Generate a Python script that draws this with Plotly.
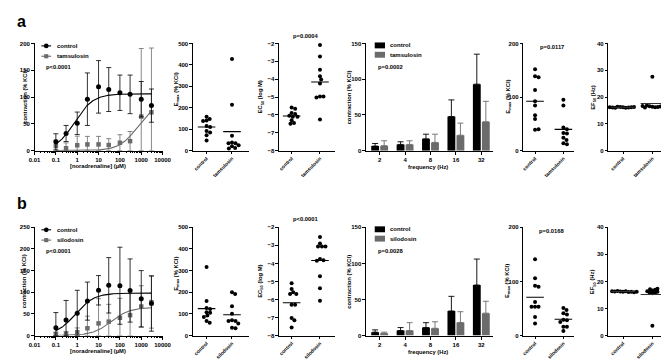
import numpy as np
import plotly.graph_objects as go

W, H = 669, 360
BLACK = "#000000"
GRAY = "#6b6b6b"
FONT = "Liberation Sans, Arial, sans-serif"

# ---------------- data ----------------
doses_uM = [0.1, 0.3, 1, 3, 10, 30, 100, 300, 1000, 3000]
dose_ticks = [0.01, 0.1, 1, 10, 100, 1000, 10000]
dose_ticktext = ["0.01", "0.1", "1", "10", "100", "1000", "10000"]

# row a: tamsulosin
a_ctrl_mean = [16.5, 32, 51, 96, 119, 114, 108, 105, 96, 84]
a_ctrl_sd = [15, 15, 21, 49, 49, 41, 33, 36, 33, 31]
a_tam_mean = [8.6, 4.5, 10, 11.6, 11.6, 10.4, 14.7, 17.7, 63.6, 71.5]
a_tam_sd = [11, 10, 17, 15, 15, 12, 15, 18, 127, 120]
a_ctrl_fit = {"top": 106, "ec50": 0.75, "hill": 1.0}
a_tam_fit = {"top": 90, "ec50": 700, "hill": 1.0}

# row b: silodosin
b_ctrl_mean = [18, 36, 51.5, 79.5, 104.5, 116, 115, 104, 85, 74]
b_ctrl_sd = [35, 45, 53, 44, 34, 64, 89, 73, 65, 64]
b_sil_mean = [3, 3.5, 7.5, 16.7, 28, 32, 41, 47, 67, 77]
b_sil_sd = [5, 6, 10, 28, 57, 40, 45, 50, 48, 60]
b_ctrl_fit = {"top": 98, "ec50": 0.8, "hill": 1.0}
b_sil_fit = {"top": 65, "ec50": 40, "hill": 1.0}

groups_a = ["control", "tamsulosin"]
groups_b = ["control", "silodosin"]

a_emax_ctrl = [158, 148, 140, 138, 115, 110, 92, 85, 72, 47]
a_emax_tam = [427, 214, 70, 38, 35, 35, 25, 20, 12, 10]
a_ec50_ctrl = [-5.58, -5.65, -5.9, -5.95, -6.05, -6.1, -6.1, -6.3, -6.45, -6.5]
a_ec50_tam = [-2.09, -2.73, -3.47, -3.83, -4.02, -4.24, -4.97, -4.97, -5.03, -6.26]
a_efs_emax_ctrl = [152, 139, 137, 113, 92, 84, 66, 59, 39, 40]
a_efs_emax_tam = [95, 84, 43, 40, 33, 32, 24, 20, 14, 12]
a_ef50_ctrl = [16.2, 16.0, 16.3, 16.1, 16.4, 16.2, 16.0, 16.1, 16.3, 16.2]
a_ef50_tam = [16.4, 16.2, 16.6, 16.3, 16.8, 16.5, 16.1, 16.7, 16.9, 27.6]

b_emax_ctrl = [317, 159, 127, 123, 108, 105, 92, 85, 67, 59]
b_emax_sil = [200, 192, 135, 101, 70, 67, 67, 55, 36, 33]
b_ec50_ctrl = [-5.1, -5.42, -5.6, -5.7, -5.7, -6.3, -6.3, -7.03, -7.16, -7.56]
b_ec50_sil = [-2.53, -2.9, -3.07, -3.07, -3.07, -3.75, -3.82, -3.86, -4.71, -5.38, -6.07]
b_efs_emax_ctrl = [141, 106, 92, 90, 62, 53, 53, 53, 34, 22]
b_efs_emax_sil = [51, 47, 41, 39, 29, 28, 25, 16, 16, 8.5]
b_ef50_ctrl = [16.2, 16.4, 16.3, 16.1, 16.5, 16.2, 16.3, 16.0, 16.4, 16.2]
b_ef50_sil = [15.6, 15.8, 15.9, 16.2, 16.4, 16.6, 16.9, 17.1, 17.3, 3.6]

freqs = ["2", "4", "8", "16", "32"]
a_bar_ctrl = [6.4, 8.7, 16.5, 47.7, 93]
a_bar_ctrl_err = [3.6, 3.7, 6.5, 23.3, 42]
a_bar_tam = [6.9, 8.7, 11.5, 21.6, 40.4]
a_bar_tam_err = [6.9, 5.1, 11.5, 16.9, 28.6]
b_bar_ctrl = [4.6, 6.8, 11, 34, 70]
b_bar_ctrl_err = [3.2, 4.2, 6.8, 20.3, 36]
b_bar_sil = [3.2, 6.8, 10, 18, 31]
b_bar_sil_err = [1.4, 11, 9, 15, 16.5]

p_texts_a = ["p<0.0001", "p=0.0004", "p=0.0002", "p=0.0117"]
p_texts_b = ["p<0.0001", "p<0.0001", "p=0.0028", "p=0.0168"]

# ---------------- layout geometry (pixels) ----------------
cols = [(21, 152), (183, 240), (271, 328), (360, 490), (521, 573), (608, 668)]
rows = [(33, 142), (220, 330)]
cat_px = [None, (197, 223), (284, 313), None, (533, 562), (623, 653)]
yranges = [[[0, 200], [0, 500], [-8, -2], [0, 150], [0, 200], [0, 40]],
           [[0, 250], [0, 500], [-8, -2], [0, 150], [0, 200], [0, 40]]]
ydticks = [50, 100, 1, 50, 100, 10]


def px2x(p):
    return p / W


def px2y(p):
    return 1 - p / H


fig = go.Figure()
layout = {}

TICKFONT = dict(family=FONT, size=6, color=BLACK, weight="bold")
axis_common = dict(showline=True, linecolor=BLACK, linewidth=1, ticks="outside",
                   ticklen=3, tickwidth=1, tickcolor=BLACK, showgrid=False,
                   zeroline=False, tickfont=TICKFONT)


def cat_range(ci):
    c0, c1 = cat_px[ci]
    sp = c1 - c0
    x0, x1 = cols[ci]
    return [(x0 - c0) / sp, (x1 - c0) / sp], sp


for r in range(2):
    for ci in range(6):
        idx = r * 6 + ci + 1
        xa = dict(axis_common, domain=[px2x(cols[ci][0]), px2x(cols[ci][1])],
                  anchor="y%d" % idx)
        ya = dict(axis_common, domain=[px2y(rows[r][1]), px2y(rows[r][0])],
                  anchor="x%d" % idx, range=yranges[r][ci], dtick=ydticks[ci],
                  tick0=0 if ci != 2 else -8, ticklen=2.5)
        if ci == 0:
            xa.update(type="log", range=[-2, 4], tickmode="array", tickvals=dose_ticks,
                      ticktext=dose_ticktext,
                      minor=dict(ticks="outside", ticklen=1.5, tickwidth=0.6,
                                 tickcolor=BLACK, dtick="D1", showgrid=False))
        elif ci == 3:
            xa.update(type="category", range=[-0.54, 4.46])
        else:
            rng, sp = cat_range(ci)
            names = groups_a if r == 0 else groups_b
            xa.update(range=rng, tickmode="array", tickvals=[0, 1], ticktext=names,
                      tickangle=-45, ticklen=2,
                      tickfont=dict(family=FONT, size=5.0, color=BLACK, weight="bold"))
        layout["xaxis%d" % idx] = xa
        layout["yaxis%d" % idx] = ya


def ax(idx):
    return dict(xaxis="x%d" % idx, yaxis="y%d" % idx)


def hill(x, p):
    x = np.asarray(x, float)
    return p["top"] / (1 + (p["ec50"] / x) ** p["hill"])


# --- dose-response panels ---
fitx = np.logspace(np.log10(min(doses_uM)), np.log10(max(doses_uM)), 200)
for r, (cm, cs, tm, ts, cf, tf) in enumerate([
        (a_ctrl_mean, a_ctrl_sd, a_tam_mean, a_tam_sd, a_ctrl_fit, a_tam_fit),
        (b_ctrl_mean, b_ctrl_sd, b_sil_mean, b_sil_sd, b_ctrl_fit, b_sil_fit)]):
    idx = r * 6 + 1
    for mean, sd, col, sym, size, fit in [(tm, ts, GRAY, "square", 4.5, tf),
                                          (cm, cs, BLACK, "circle", 5, cf)]:
        fig.add_trace(go.Scatter(x=fitx, y=hill(fitx, fit), mode="lines",
                                 line=dict(color=col, width=1.1), showlegend=False,
                                 hoverinfo="skip", **ax(idx)))
        fig.add_trace(go.Scatter(
            x=doses_uM, y=mean, mode="markers", cliponaxis=False,
            marker=dict(symbol=sym, size=size, color=col),
            error_y=dict(type="data", symmetric=False, array=sd,
                         arrayminus=[min(s, m) for s, m in zip(sd, mean)],
                         color=col, thickness=0.8, width=2.5),
            showlegend=False, **ax(idx)))


# --- scatter (beeswarm) panels ---
def swarm(vals, center, xppu, yppu, diam):
    placed = []
    xs = []
    for v in vals:
        yp = v * yppu
        k = 0
        found = None
        while found is None:
            cands = [0.0] if k == 0 else [k * 0.4, -k * 0.4]
            for off in cands:
                if all((off - qx) ** 2 + (yp - qy) ** 2 >= diam ** 2 for qx, qy in placed):
                    found = off
                    break
            k += 1
        placed.append((found, yp))
        xs.append(center + found / xppu)
    return xs


scatter_sets = {
    (0, 1): (a_emax_ctrl, a_emax_tam), (0, 2): (a_ec50_ctrl, a_ec50_tam),
    (0, 4): (a_efs_emax_ctrl, a_efs_emax_tam), (0, 5): (a_ef50_ctrl, a_ef50_tam),
    (1, 1): (b_emax_ctrl, b_emax_sil), (1, 2): (b_ec50_ctrl, b_ec50_sil),
    (1, 4): (b_efs_emax_ctrl, b_efs_emax_sil), (1, 5): (b_ef50_ctrl, b_ef50_sil),
}
for (r, ci), sets in scatter_sets.items():
    idx = r * 6 + ci + 1
    rng, sp = cat_range(ci)
    yr = yranges[r][ci]
    yppu = (rows[r][1] - rows[r][0]) / (yr[1] - yr[0])
    diam = 2.6 if ci == 5 else 3.6
    for g, vals in enumerate(sets):
        xs = swarm(vals, g, sp, yppu, diam)
        fig.add_trace(go.Scatter(x=xs, y=vals, mode="markers", cliponaxis=False,
                                 marker=dict(size=4, color=BLACK), showlegend=False, **ax(idx)))
        m = float(np.mean(vals))
        hw = (12 if ci == 5 else 9) / sp
        fig.add_trace(go.Scatter(x=[g - hw, g + hw], y=[m, m], mode="lines", cliponaxis=False,
                                 line=dict(color=BLACK if ci != 5 else "#333333", width=1.1),
                                 showlegend=False, hoverinfo="skip", **ax(idx)))

# --- bar panels ---
for r, (c, ce, t, te) in enumerate([(a_bar_ctrl, a_bar_ctrl_err, a_bar_tam, a_bar_tam_err),
                                    (b_bar_ctrl, b_bar_ctrl_err, b_bar_sil, b_bar_sil_err)]):
    idx = r * 6 + 4
    for vals, err, col in [(c, ce, BLACK), (t, te, GRAY)]:
        fig.add_trace(go.Bar(x=freqs, y=vals, marker=dict(color=col, line=dict(width=0)),
                             error_y=dict(type="data", symmetric=False, array=err,
                                          arrayminus=[0] * len(err), color=col,
                                          thickness=0.9, width=3),
                             showlegend=False, offsetgroup=str(col), **ax(idx)))

# ---------------- annotations ----------------
anns = []
shapes = []


def text(xp, yp, s, size=5.8, xa="center", ya="middle", angle=0):
    anns.append(dict(x=px2x(xp), y=px2y(yp), xref="paper", yref="paper", text=s,
                     showarrow=False, xanchor=xa, yanchor=ya, textangle=angle,
                     font=dict(family=FONT, size=size, color=BLACK, weight="bold")))


text(1, 0, "a", size=16, xa="left", ya="top")
text(1, 185, "b", size=16, xa="left", ya="top")

ytitles = ["contraction (% KCl)", "E<sub>max</sub> (% KCl)", "EC<sub>50</sub> (log M)",
           "contraction (% KCl)", "E<sub>max</sub> (% KCl)", "EF<sub>50</sub> (Hz)"]
ytitle_x = [11, 166, 252, 343, 505, 592]
for r in range(2):
    yc = (rows[r][0] + rows[r][1]) / 2
    for ci in range(6):
        text(ytitle_x[ci], yc - (8 if ci == 1 else 0), ytitles[ci], angle=-90)
    off = rows[r][1]
    text(86, off + 16, "[noradrenaline] (µM)")
    text(424, off + 17, "frequency (Hz)")

for r, ptx, names in [(0, p_texts_a, groups_a), (1, p_texts_b, groups_b)]:
    top = rows[r][0]
    text(31, top + 24, ptx[0], xa="left")
    text(298, top - 8, ptx[1])
    text(370, top + 24, ptx[2], xa="left")
    text(550, top + 4, ptx[3])
    # dose-response legend
    for k, (nm, col, sym) in enumerate([(names[0], BLACK, "circle"), (names[1], GRAY, "square")]):
        yy = top + 2.5 + k * 10.5
        shapes.append(dict(type="line", xref="paper", yref="paper", x0=px2x(28), x1=px2x(38),
                           y0=px2y(yy), y1=px2y(yy), line=dict(color=col, width=1.1)))
        rad = 2.4 if sym == "circle" else 2.1
        shapes.append(dict(type="circle" if sym == "circle" else "rect", xref="paper", yref="paper",
                           x0=px2x(33 - rad), x1=px2x(33 + rad), y0=px2y(yy + rad), y1=px2y(yy - rad),
                           fillcolor=col, line=dict(color=col, width=0)))
        text(42, yy, nm, size=6, xa="left")
        # bar legend
        by = top + 2 + k * 9.5
        shapes.append(dict(type="rect", xref="paper", yref="paper", x0=px2x(369), x1=px2x(379.5),
                           y0=px2y(by + 3), y1=px2y(by - 3), fillcolor=col, line=dict(width=0)))
        text(383, by, nm, size=6, xa="left")

layout.update(dict(width=W, height=H, margin=dict(l=0, r=0, t=0, b=0), autosize=False,
                   paper_bgcolor="white", plot_bgcolor="white", showlegend=False,
                   barmode="group", bargap=0.29, bargroupgap=0.13,
                   font=dict(family=FONT, size=6, color=BLACK, weight="bold"),
                   annotations=anns, shapes=shapes))
fig.update_layout(**layout)
fig.write_html("out.html")
